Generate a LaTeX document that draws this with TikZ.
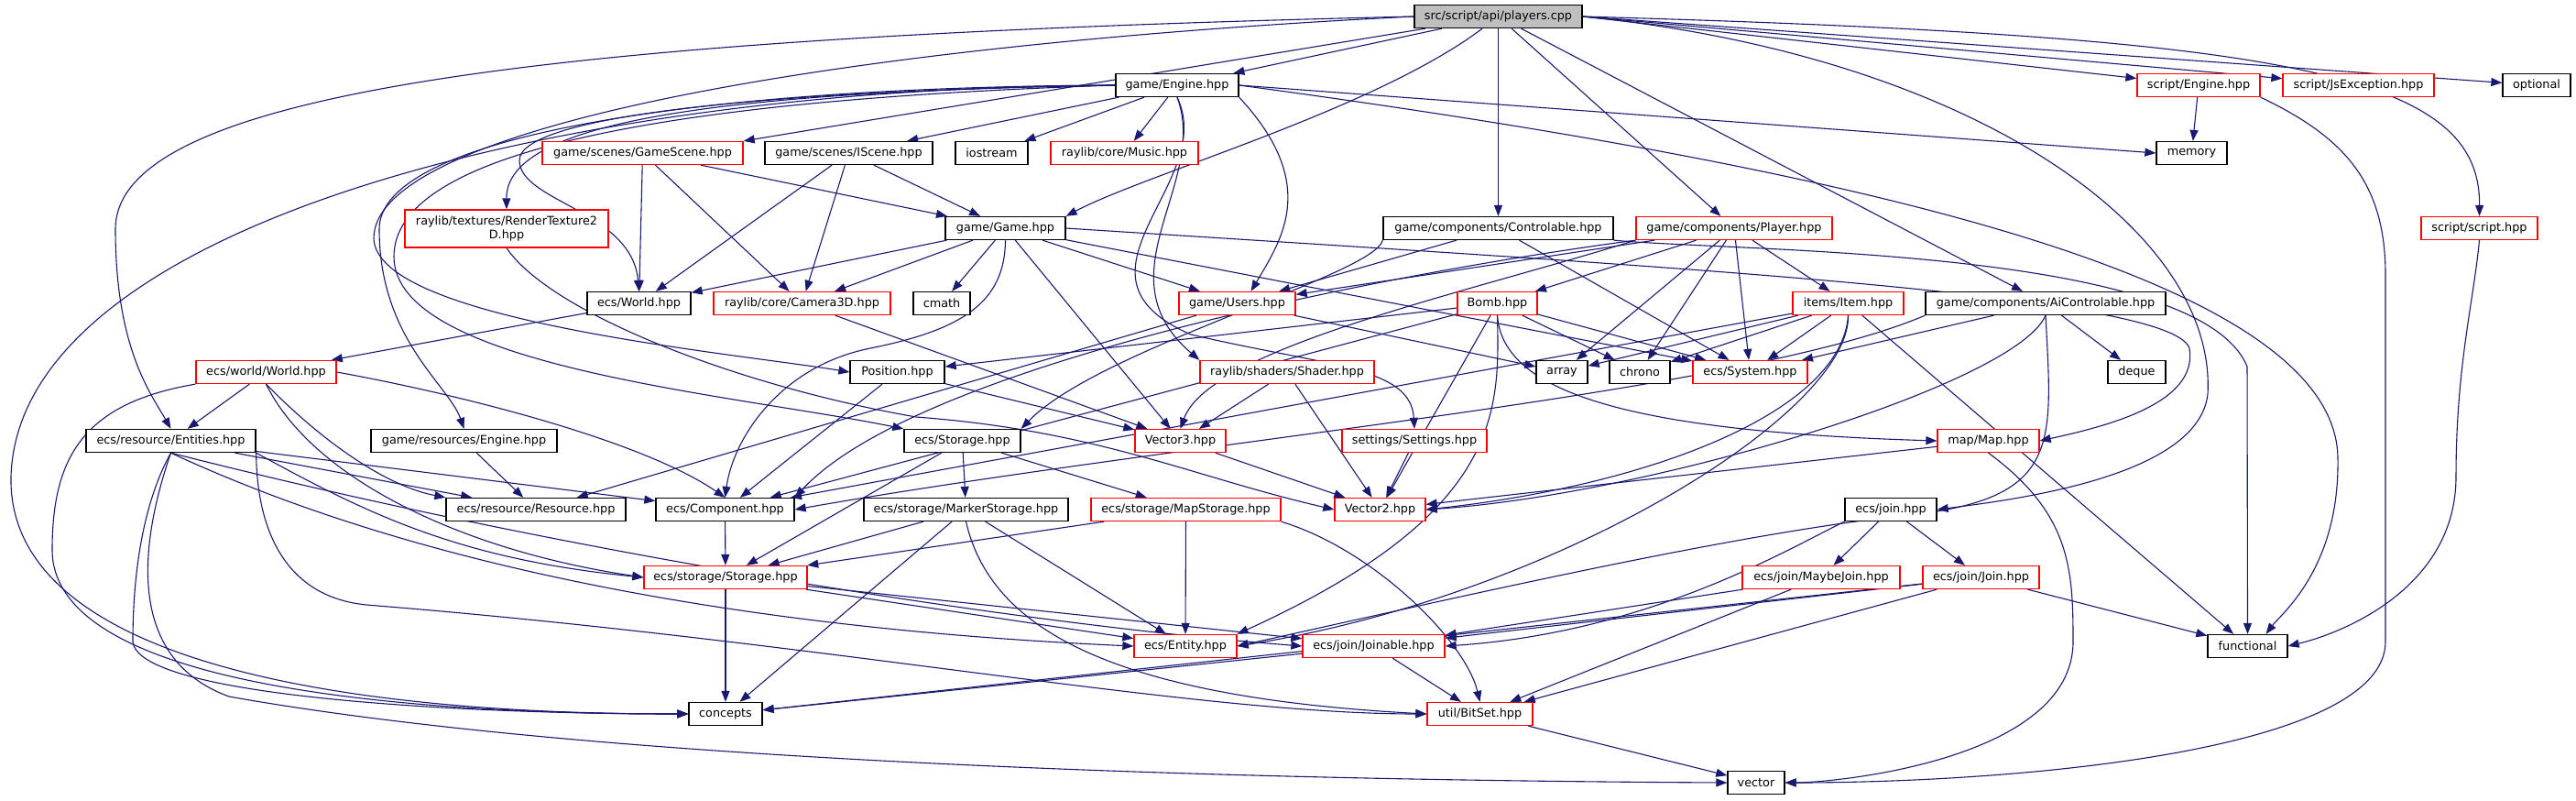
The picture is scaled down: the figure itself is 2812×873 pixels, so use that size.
\documentclass[tikz,border=0pt]{standalone}
\usepackage{fontspec}
\setmainfont{DejaVu Sans}
\usetikzlibrary{arrows.meta, backgrounds}
\definecolor{edgeblue}{RGB}{25,25,112}
\definecolor{boxgray}{RGB}{191,191,191}

\begin{document}
\begin{tikzpicture}[x=1pt, y=1pt,
  file/.style={draw=black, line width=1.3pt, fill=white, minimum height=25pt,
    inner sep=0pt, align=center, font=\fontsize{12.8}{15}\selectfont},
  trunc/.style={file, draw=red},
  dep/.style={draw=edgeblue, line width=1.1pt, -{Triangle[length=12pt,width=9pt]}}]
  \useasboundingbox (0,0) rectangle (2812,-873);

  % rank 0 .. 2
  \node[file, fill=boxgray, minimum width=183] (players) at (1635.5,-18) {src/script/api/players.cpp};
  \node[file, minimum width=134] (gengine) at (1285,-93) {game/Engine.hpp};
  \node[trunc, minimum width=134] (sengine) at (2400,-93) {script/Engine.hpp};
  \node[trunc, minimum width=165] (jsexc) at (2574.5,-93) {script/JsException.hpp};
  \node[file, minimum width=74] (optional) at (2769,-93) {optional};
  \node[trunc, minimum width=219] (gscene) at (701.5,-167) {game/scenes/GameScene.hpp};
  \node[file, minimum width=183] (iscene) at (926.5,-167) {game/scenes/IScene.hpp};
  \node[file, minimum width=79] (iostream) at (1082.5,-167) {iostream};
  \node[trunc, minimum width=161] (music) at (1227.5,-167) {raylib/core/Music.hpp};
  \node[file, minimum width=77] (memory) at (2392.5,-167) {memory};

  % rank 3 .. 5
  \node[trunc, minimum width=222, minimum height=41] (rtex) at (553,-249.5) {raylib/textures/RenderTexture2\\D.hpp};
  \node[file, minimum width=131] (game) at (1097.5,-249) {game/Game.hpp};
  \node[file, minimum width=251] (ctrl) at (1635.5,-249) {game/components/Controlable.hpp};
  \node[trunc, minimum width=214] (player) at (1893,-249) {game/components/Player.hpp};
  \node[trunc, minimum width=127] (sscript) at (2706.5,-249) {script/script.hpp};
  \node[file, minimum width=113] (world) at (697.5,-331) {ecs/World.hpp};
  \node[trunc, minimum width=193] (cam) at (875.5,-331) {raylib/core/Camera3D.hpp};
  \node[file, minimum width=62] (cmath) at (1028,-331) {cmath};
  \node[trunc, minimum width=127] (users) at (1350.5,-331) {game/Users.hpp};
  \node[trunc, minimum width=87] (bomb) at (1634.5,-331) {Bomb.hpp};
  \node[trunc, minimum width=121] (item) at (2017.5,-331) {items/Item.hpp};
  \node[file, minimum width=262] (aictrl) at (2233,-331) {game/components/AiControlable.hpp};
  \node[trunc, minimum width=153] (wworld) at (290.5,-406) {ecs/world/World.hpp};
  \node[file, minimum width=103] (position) at (979.5,-406) {Position.hpp};
  \node[trunc, minimum width=190] (shader) at (1405,-406) {raylib/shaders/Shader.hpp};
  \node[file, minimum width=56] (array) at (1705,-406) {array};
  \node[file, minimum width=66] (chrono) at (1790,-406) {chrono};
  \node[trunc, minimum width=125] (system) at (1910.5,-406) {ecs/System.hpp};
  \node[file, minimum width=63] (deque) at (2332.5,-406) {deque};

  % rank 6 .. 11
  \node[file, minimum width=185] (entities) at (186.5,-481) {ecs/resource/Entities.hpp};
  \node[file, minimum width=203] (gres) at (506.5,-481) {game/resources/Engine.hpp};
  \node[file, minimum width=127] (estorage) at (1050.5,-481) {ecs/Storage.hpp};
  \node[trunc, minimum width=99] (vec3) at (1288.5,-481) {Vector3.hpp};
  \node[trunc, minimum width=158] (settings) at (1544,-481) {settings/Settings.hpp};
  \node[trunc, minimum width=111] (map) at (2170.5,-481) {map/Map.hpp};
  \node[file, minimum width=196] (resource) at (585,-556) {ecs/resource/Resource.hpp};
  \node[file, minimum width=151] (component) at (791.5,-556) {ecs/Component.hpp};
  \node[file, minimum width=223] (marker) at (1054.5,-556) {ecs/storage/MarkerStorage.hpp};
  \node[trunc, minimum width=207] (mapst) at (1294.5,-556) {ecs/storage/MapStorage.hpp};
  \node[trunc, minimum width=99] (vec2) at (1506.5,-556) {Vector2.hpp};
  \node[file, minimum width=100] (join) at (2064,-556) {ecs/join.hpp};
  \node[trunc, minimum width=178] (sstorage) at (792,-630) {ecs/storage/Storage.hpp};
  \node[trunc, minimum width=172] (maybejoin) at (1988,-630) {ecs/join/MaybeJoin.hpp};
  \node[trunc, minimum width=127] (joinj) at (2162.5,-630) {ecs/join/Join.hpp};
  \node[trunc, minimum width=112] (entity) at (1294,-705) {ecs/Entity.hpp};
  \node[trunc, minimum width=155] (joinable) at (1499.5,-705) {ecs/join/Joinable.hpp};
  \node[file, minimum width=87] (functional) at (2453.5,-705) {functional};
  \node[file, minimum width=80] (concepts) at (792,-779) {concepts};
  \node[trunc, minimum width=115] (bitset) at (1615.5,-779) {util/BitSet.hpp};
  \node[file, minimum width=62] (vector) at (1917,-854) {vector};

  \begin{scope}[on background layer]
    % players.cpp
    \draw[dep] (players) -- (gengine);
    \draw[dep] (players.east) -- (sengine);
    \draw[dep] (players.east) -- (jsexc);
    \draw[dep] (players.east) -- (optional);
    \draw[dep] (players.east) .. controls (2500,-40) and (2708,-80) .. (sscript.north);
    \draw[dep] (players) -- (ctrl);
    \draw[dep] (players) -- (player);
    \draw[dep] (players) -- (aictrl);
    \draw[dep] (players) .. controls (1500,-120) and (1250,-190) .. (game.north east);
    \draw[dep] (players.east) .. controls (2150,-60) and (2420,-250) .. (2410,-430)
      .. controls (2400,-520) and (2200,-545) .. (join.east);
    \draw[dep] (players) -- (gscene.north east);
    \draw[dep] (players.west) .. controls (600,-40) and (126,-100) .. (126,-250)
      .. controls (126,-380) and (165,-430) .. (entities.north);
    \draw[dep] (players.west) .. controls (900,-50) and (408,-140) .. (408,-260)
      .. controls (410,-350) and (800,-385) .. (position.west);

    % game/Engine.hpp
    \draw[dep] (gengine) -- (iscene);
    \draw[dep] (gengine) -- (iostream);
    \draw[dep] (gengine) -- (music);
    \draw[dep] (gengine.east) -- (memory.west);
    \draw[dep] (gengine.east) .. controls (2000,-180) and (2550,-300) .. (2552,-500)
      .. controls (2554,-620) and (2490,-670) .. ([xshift=20pt]functional.north);
    \draw[dep] (gengine.south east) .. controls (1440,-200) and (1400,-260) .. ([xshift=15pt]users.north);
    \draw[dep] (gengine.south) .. controls (1320,-200) and (1200,-300) .. (shader.north west);
    \draw[dep] (gengine.south) .. controls (1330,-200) and (1150,-300) .. (1300,-365)
      .. controls (1450,-400) and (1540,-400) .. (settings.north);
    \draw[dep] (gengine.west) .. controls (800,-100) and (567,-130) .. (567,-175)
      .. controls (567,-220) and (690,-230) .. (world.north);
    \draw[dep] (gengine.west) .. controls (800,-100) and (552,-130) .. (rtex.north);
    \draw[dep] (gengine.west) .. controls (750,-95) and (414,-150) .. (414,-250)
      .. controls (414,-370) and (490,-420) .. (gres.north);
    \draw[dep] (gengine.west) .. controls (600,-95) and (20,-250) .. (12,-520)
      .. controls (8,-700) and (300,-779) .. (concepts.west);
    \draw[dep] (gengine.west) .. controls (700,-110) and (430,-170) .. (430,-280)
      .. controls (430,-400) and (800,-430) .. (estorage.north west);

    % script
    \draw[dep] (sengine) -- (memory);
    \draw[dep] (sengine.south east) .. controls (2560,-150) and (2604,-200) .. (2604,-300)
      -- (2604,-700) .. controls (2604,-820) and (2200,-854) .. (vector.east);
    \draw[dep] (sscript.south) .. controls (2700,-330) and (2681,-400) .. (2681,-520)
      .. controls (2681,-640) and (2560,-690) .. (functional.east);

    % scenes
    \draw[dep] (gscene) -- (world);
    \draw[dep] (gscene) -- (cam);
    \draw[dep] (gscene) -- (game);
    \draw[dep] (iscene) -- (world);
    \draw[dep] (iscene) -- (cam);
    \draw[dep] (iscene) -- (game);

    % game/Game.hpp
    \draw[dep] (game) -- (world);
    \draw[dep] (game) -- (cam);
    \draw[dep] (game) -- (cmath);
    \draw[dep] (game) -- (users);
    \draw[dep] (game.south) .. controls (1097,-330) and (1050,-360) .. (950,-380)
      .. controls (850,-400) and (800,-480) .. (component.north);
    \draw[dep] (game) -- (vec3);
    \draw[dep] (game.east) .. controls (1800,-290) and (2370,-320) .. (2390,-380)
      .. controls (2400,-440) and (2300,-465) .. (map.east);
    \draw[dep] (game) -- (system);
    \draw[dep] (rtex.south) .. controls (600,-340) and (800,-420) .. (1000,-455)
      .. controls (1200,-470) and (1300,-520) .. (vec2.west);
    \draw[dep] (cam) -- (vec3);
    \draw[dep] (world) -- (wworld);

    % components
    \draw[dep] (ctrl) -- (users);
    \draw[dep] (ctrl) -- (system);
    \draw[dep] (ctrl.south east) .. controls (1900,-275) and (2400,-270) .. (2453,-400)
      -- (functional.north);
    \draw[dep] (ctrl.south west) .. controls (1500,-300) and (1200,-380) .. (estorage.north east);
    \draw[dep] (player) -- (users);
    \draw[dep] (player) -- (bomb);
    \draw[dep] (player) -- (item);
    \draw[dep] (player) -- (system);
    \draw[dep] (player) -- (array);
    \draw[dep] (player) -- (chrono);
    \draw[dep] (player.south west) .. controls (1500,-300) and (1000,-400) .. (component.north east);
    \draw[dep] (player.south west) .. controls (1600,-320) and (1320,-380) .. (vec3.north);
    \draw[dep] (users) -- (array);
    \draw[dep] (users) -- (resource);
    \draw[dep] (bomb) -- (position);
    \draw[dep] (bomb) -- (component);
    \draw[dep] (bomb) -- (vec2);
    \draw[dep] (bomb) -- (chrono);
    \draw[dep] (bomb) -- (system);
    \draw[dep] (bomb.south) .. controls (1637,-450) and (1640,-560) .. (entity.north east);
    \draw[dep] (bomb.south) .. controls (1640,-420) and (1750,-470) .. (map.west);
    \draw[dep] (item) -- (component);
    \draw[dep] (item) -- (array);
    \draw[dep] (item) -- (chrono);
    \draw[dep] (item) -- (system);
    \draw[dep] (item) -- (functional);
    \draw[dep] (item.south) .. controls (2010,-450) and (1800,-530) .. (vec2.east);
    \draw[dep] (item.south) .. controls (2020,-450) and (1700,-650) .. (entity.east);
    \draw[dep] (aictrl) -- (system);
    \draw[dep] (aictrl) -- (deque);
    \draw[dep] (aictrl.south west) .. controls (1900,-430) and (1300,-480) .. (component.east);
    \draw[dep] (aictrl.south) .. controls (2200,-420) and (1800,-540) .. (vec2.east);
    \draw[dep] (aictrl.south) .. controls (2240,-480) and (2250,-540) .. (2100,-560)
      .. controls (1900,-580) and (1600,-650) .. (entity.east);

    % ecs
    \draw[dep] (wworld) -- (entities);
    \draw[dep] (wworld.east) .. controls (500,-430) and (700,-480) .. (component.north);
    \draw[dep] (wworld.south) .. controls (350,-480) and (420,-530) .. (resource.north west);
    \draw[dep] (wworld.south) .. controls (340,-520) and (500,-600) .. (sstorage.west);
    \draw[dep] (wworld.south west) .. controls (90,-440) and (57,-500) .. (57,-600)
      .. controls (57,-760) and (500,-779) .. (concepts.west);
    \draw[dep] (gres) -- (resource);
    \draw[dep] (position) -- (component);
    \draw[dep] (position) -- (vec3);
    \draw[dep] (shader) -- (vec3);
    \draw[dep] (shader) -- (vec2);
    \draw[dep] (settings) -- (vec2);
    \draw[dep] (estorage) -- (sstorage);
    \draw[dep] (estorage) -- (marker);
    \draw[dep] (estorage) -- (mapst);
    \draw[dep] (entities) -- (resource);
    \draw[dep] (entities) -- (component);
    \draw[dep] (entities.south east) .. controls (400,-560) and (500,-610) .. (sstorage.west);
    \draw[dep] (entities.south) .. controls (500,-640) and (900,-690) .. (entity.west);
    \draw[dep] (entities.south) .. controls (600,-600) and (1100,-680) .. (joinable.west);
    \draw[dep] (entities.south east) .. controls (280,-560) and (300,-650) .. (400,-660)
      .. controls (900,-700) and (1300,-779) .. (bitset.west);
    \draw[dep] (entities.south) .. controls (150,-560) and (145,-650) .. (145,-700)
      .. controls (150,-760) and (500,-779) .. (concepts.west);
    \draw[dep] (entities.south) .. controls (150,-600) and (140,-720) .. (250,-760)
      .. controls (700,-840) and (1500,-852) .. (vector.west);
    \draw[dep] (component) -- (sstorage);
    \draw[dep] (marker) -- (sstorage);
    \draw[dep] (marker) -- (concepts);
    \draw[dep] (marker) -- (entity);
    \draw[dep] (marker.south) .. controls (1080,-680) and (1200,-760) .. (bitset.west);
    \draw[dep] (mapst) -- (sstorage);
    \draw[dep] (mapst) -- (entity);
    \draw[dep] (mapst.south east) .. controls (1500,-600) and (1600,-700) .. (bitset.north);
    \draw[dep] (vec3) -- (vec2);
    \draw[dep] (map) -- (vec2);
    \draw[dep] (map.south) .. controls (2260,-560) and (2263,-620) .. (2263,-700)
      .. controls (2263,-830) and (2000,-854) .. (vector.east);
    \draw[dep] (join) -- (maybejoin);
    \draw[dep] (join) -- (joinj);
    \draw[dep] (join.south west) .. controls (1950,-600) and (1800,-690) .. (joinable.east);
    \draw[dep] (maybejoin) -- (joinable);
    \draw[dep] (maybejoin) -- (bitset);
    \draw[dep] (joinj) -- (joinable);
    \draw[dep] (joinj) -- (bitset);
    \draw[dep] (joinj) -- (concepts);
    \draw[dep] (joinj) -- (functional);
    \draw[dep] (sstorage) -- (concepts);
    \draw[dep] (sstorage) -- (entity);
    \draw[dep] (sstorage) -- (joinable);
    \draw[dep] (joinable) -- (concepts);
    \draw[dep] (joinable) -- (bitset);
    \draw[dep] (bitset) -- (vector);
  \end{scope}
\end{tikzpicture}
\end{document}
